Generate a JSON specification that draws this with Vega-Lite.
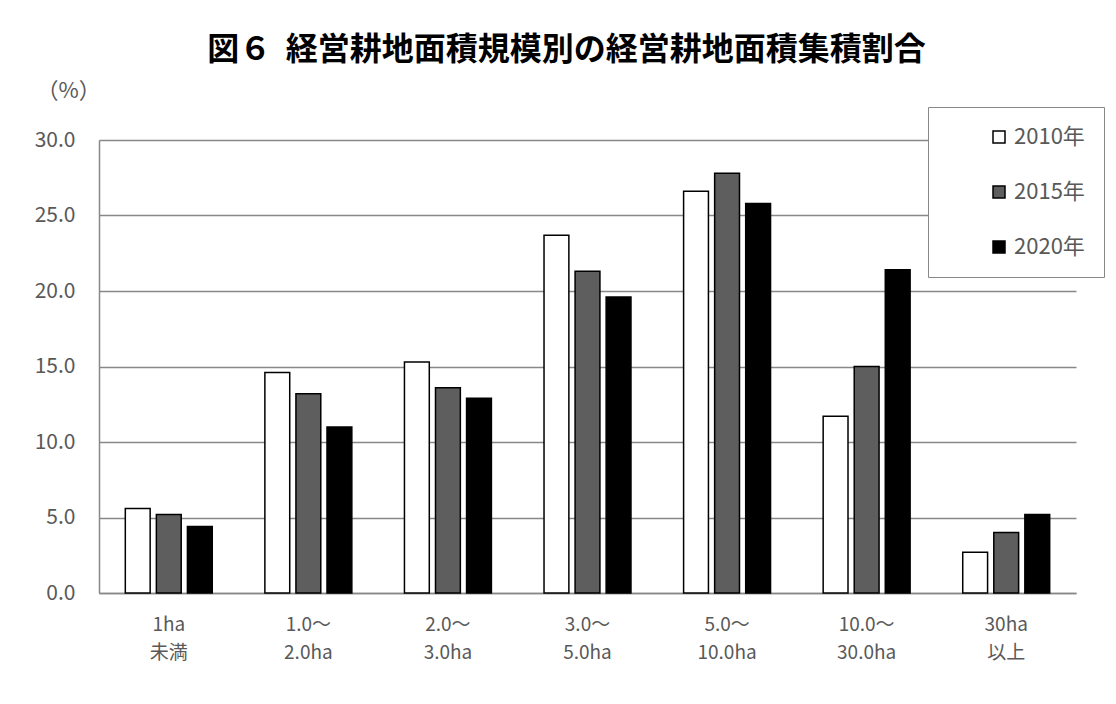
{
  "$schema": "https://vega.github.io/schema/vega-lite/v6.json",
  "autosize": "none",
  "padding": {"left": 99, "top": 140, "right": 40, "bottom": 111},
  "width": 977,
  "height": 453,
  "background": "white",
  "title": {
    "text": "図６\u00a0\u00a0経営耕地面積規模別の経営耕地面積集積割合",
    "anchor": "middle",
    "frame": "group",
    "dx": -21,
    "offset": 12,
    "fontSize": 32,
    "fontWeight": "bold",
    "color": "black",
    "font": "Noto Sans CJK JP"
  },
  "data": {
    "values": [
      {"size": "1ha 未満", "year": "2010年", "value": 5.6},
      {"size": "1ha 未満", "year": "2015年", "value": 5.2},
      {"size": "1ha 未満", "year": "2020年", "value": 4.4},
      {"size": "1.0～ 2.0ha", "year": "2010年", "value": 14.6},
      {"size": "1.0～ 2.0ha", "year": "2015年", "value": 13.2},
      {"size": "1.0～ 2.0ha", "year": "2020年", "value": 11.0},
      {"size": "2.0～ 3.0ha", "year": "2010年", "value": 15.3},
      {"size": "2.0～ 3.0ha", "year": "2015年", "value": 13.6},
      {"size": "2.0～ 3.0ha", "year": "2020年", "value": 12.9},
      {"size": "3.0～ 5.0ha", "year": "2010年", "value": 23.7},
      {"size": "3.0～ 5.0ha", "year": "2015年", "value": 21.3},
      {"size": "3.0～ 5.0ha", "year": "2020年", "value": 19.6},
      {"size": "5.0～ 10.0ha", "year": "2010年", "value": 26.6},
      {"size": "5.0～ 10.0ha", "year": "2015年", "value": 27.8},
      {"size": "5.0～ 10.0ha", "year": "2020年", "value": 25.8},
      {"size": "10.0～ 30.0ha", "year": "2010年", "value": 11.7},
      {"size": "10.0～ 30.0ha", "year": "2015年", "value": 15.0},
      {"size": "10.0～ 30.0ha", "year": "2020年", "value": 21.4},
      {"size": "30ha 以上", "year": "2010年", "value": 2.7},
      {"size": "30ha 以上", "year": "2015年", "value": 4.0},
      {"size": "30ha 以上", "year": "2020年", "value": 5.2}
    ]
  },
  "mark": {"type": "bar", "stroke": "black", "strokeWidth": 1.5},
  "encoding": {
    "x": {
      "field": "size",
      "type": "nominal",
      "sort": null,
      "scale": {"paddingInner": 0.377, "paddingOuter": 0.1885},
      "axis": {
        "title": null,
        "labelAngle": 0,
        "labelExpr": "split(datum.label, ' ')",
        "labelFontSize": 19,
        "labelColor": "#595959",
        "labelLineHeight": 28,
        "labelPadding": 22,
        "ticks": false,
        "domain": true,
        "domainColor": "#888888",
        "domainWidth": 1.5,
        "grid": false
      }
    },
    "xOffset": {
      "field": "year",
      "type": "nominal",
      "scale": {"paddingInner": 0.2, "paddingOuter": 0}
    },
    "y": {
      "field": "value",
      "type": "quantitative",
      "scale": {"domain": [0, 30], "nice": false},
      "axis": {
        "title": "（%）",
        "titleAngle": 0,
        "titleX": -31,
        "titleY": -50,
        "titleAlign": "center",
        "titleBaseline": "middle",
        "titleFontSize": 22,
        "titleFontWeight": "normal",
        "titleColor": "#595959",
        "values": [0, 5, 10, 15, 20, 25, 30],
        "format": ".1f",
        "labelFontSize": 21,
        "labelColor": "#595959",
        "labelPadding": 24,
        "ticks": false,
        "domain": true,
        "domainColor": "#888888",
        "domainWidth": 1.5,
        "grid": true,
        "gridColor": "#888888",
        "gridWidth": 1.5
      }
    },
    "fill": {
      "field": "year",
      "type": "nominal",
      "scale": {"domain": ["2010年", "2015年", "2020年"], "range": ["#ffffff", "#5e5e5e", "#000000"]},
      "legend": {
        "title": null,
        "orient": "none",
        "legendX": 829,
        "legendY": -33,
        "strokeColor": "#888888",
        "fillColor": "white",
        "padding": 19,
        "symbolOffset": 41,
        "symbolType": "square",
        "symbolSize": 144,
        "symbolStrokeColor": "black",
        "symbolStrokeWidth": 1.5,
        "labelFontSize": 22,
        "labelColor": "#595959",
        "labelOffset": 4,
        "rowPadding": 33
      }
    }
  },
  "config": {
    "font": "Noto Sans CJK JP",
    "view": {"stroke": null},
    "axis": {"labelFont": "Noto Sans CJK JP", "titleFont": "Noto Sans CJK JP"},
    "legend": {"labelFont": "Noto Sans CJK JP"}
  }
}
